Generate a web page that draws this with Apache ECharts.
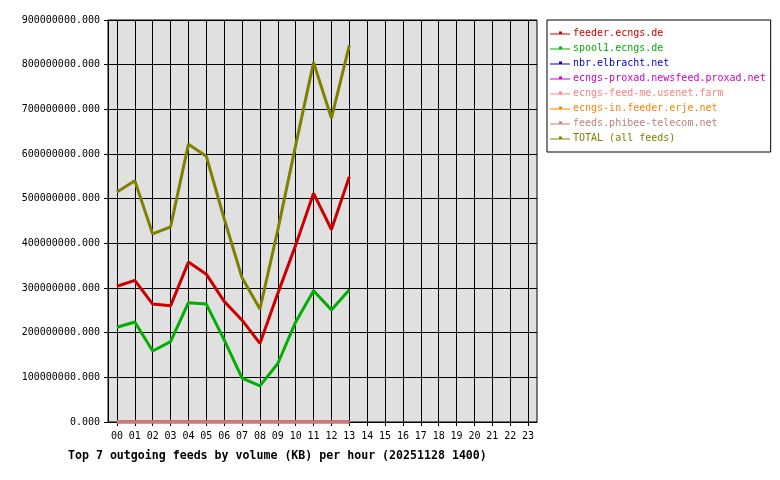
<!DOCTYPE html>
<html><head><meta charset="utf-8">
<script src="https://cdn.jsdelivr.net/npm/echarts@6/dist/echarts.min.js"></script>
<style>html,body{margin:0;padding:0;background:#fff}#c{width:780px;height:480px}</style>
</head><body><div id="c"></div>
<script>
var hours = ['00','01','02','03','04','05','06','07','08','09','10','11','12','13','14','15','16','17','18','19','20','21','22','23'];
var feederEcngs = [304000000,317000000,264000000,260000000,358000000,331000000,270000000,228000000,176000000,288000000,396000000,512000000,431000000,549000000];
var spool1Ecngs = [212000000,224000000,159000000,180000000,267000000,264000000,184000000,98000000,81000000,131000000,224000000,294000000,251000000,296000000];
var nbrElbracht = [300000,300000,300000,300000,300000,300000,300000,300000,300000,300000,300000,300000,300000,300000];
var proxad = [200000,200000,200000,200000,200000,200000,200000,200000,200000,200000,200000,200000,200000,200000];
var feedMe = [150000,150000,150000,150000,150000,150000,150000,150000,150000,150000,150000,150000,150000,150000];
var erje = [100000,100000,100000,100000,100000,100000,100000,100000,100000,100000,100000,100000,100000,100000];
var phibee = [100000,100000,100000,100000,100000,100000,100000,100000,100000,100000,100000,100000,100000,100000];
var total = [515000000,540000000,421000000,437000000,622000000,595000000,455000000,323000000,253000000,430000000,620000000,805000000,680000000,843000000];
var yTicks = [0,100000000,200000000,300000000,400000000,500000000,600000000,700000000,800000000,900000000];

var names = ['feeder.ecngs.de','spool1.ecngs.de','nbr.elbracht.net','ecngs-proxad.newsfeed.proxad.net','ecngs-feed-me.usenet.farm','ecngs-in.feeder.erje.net','feeds.phibee-telecom.net','TOTAL (all feeds)'];
var colors = ['#cc0000','#00b000','#0000cc','#cc00cc','#ff8080','#ff8000','#c08080','#808000'];
var datas = [feederEcngs,spool1Ecngs,nbrElbracht,proxad,feedMe,erje,phibee,total];

var font = 'DejaVu Sans Mono';
var chart = echarts.init(document.getElementById('c'), null, {renderer:'canvas'});
var series = names.map(function(n,i){
  return {name:n,type:'line',data:datas[i],showSymbol:false,symbol:'none',animation:false,
    lineStyle:{color:colors[i],width:3},itemStyle:{color:colors[i]},z:2+i};
});
chart.setOption({
  backgroundColor:'#fff',
  animation:false,
  grid:{left:108,top:20,width:429,height:402,show:true,backgroundColor:'#e0e0e0',borderColor:'#000',borderWidth:1},
  title:{text:'Top 7 outgoing feeds by volume (KB) per hour (20251128 1400)',left:63,top:445,
    textStyle:{fontFamily:font,fontSize:11.6,fontWeight:'bold',color:'#000'}},
  legend:{orient:'vertical',left:547,top:20,padding:[8,5,9,3],itemGap:5,itemWidth:20,itemHeight:5,
    icon:'path://M0,3h20v1H0z M9,1h3v3H9z',
    backgroundColor:'#fff',borderColor:'#000',borderWidth:1,
    textStyle:{fontFamily:font,fontSize:10,padding:[0,0,0,-2]},
    data:names.map(function(n,i){return {name:n,textStyle:{color:colors[i]}};})},
  xAxis:[{type:'category',data:hours,boundaryGap:true,
    axisLine:{show:true,lineStyle:{color:'#000'}},
    axisTick:{show:true,alignWithLabel:true,inside:true,length:402,lineStyle:{color:'#000',width:1}},
    axisLabel:{fontFamily:font,fontSize:10,color:'#000',margin:9,interval:0},
    splitLine:{show:false}},
   {type:'category',data:hours,boundaryGap:true,position:'bottom',
    axisLine:{show:false},
    axisTick:{show:true,alignWithLabel:true,inside:false,length:4,lineStyle:{color:'#000'}},
    axisLabel:{show:false},splitLine:{show:false}}],
  yAxis:{type:'value',min:0,max:900000000,interval:100000000,
    axisLine:{show:true,lineStyle:{color:'#000'}},
    axisTick:{show:true,length:4,lineStyle:{color:'#000'}},
    axisLabel:{fontFamily:font,fontSize:10,color:'#000',margin:8,formatter:function(v){return v+'.000';}},
    splitLine:{show:true,lineStyle:{color:'#000',width:1}}},
  series:series
});
</script></body></html>
